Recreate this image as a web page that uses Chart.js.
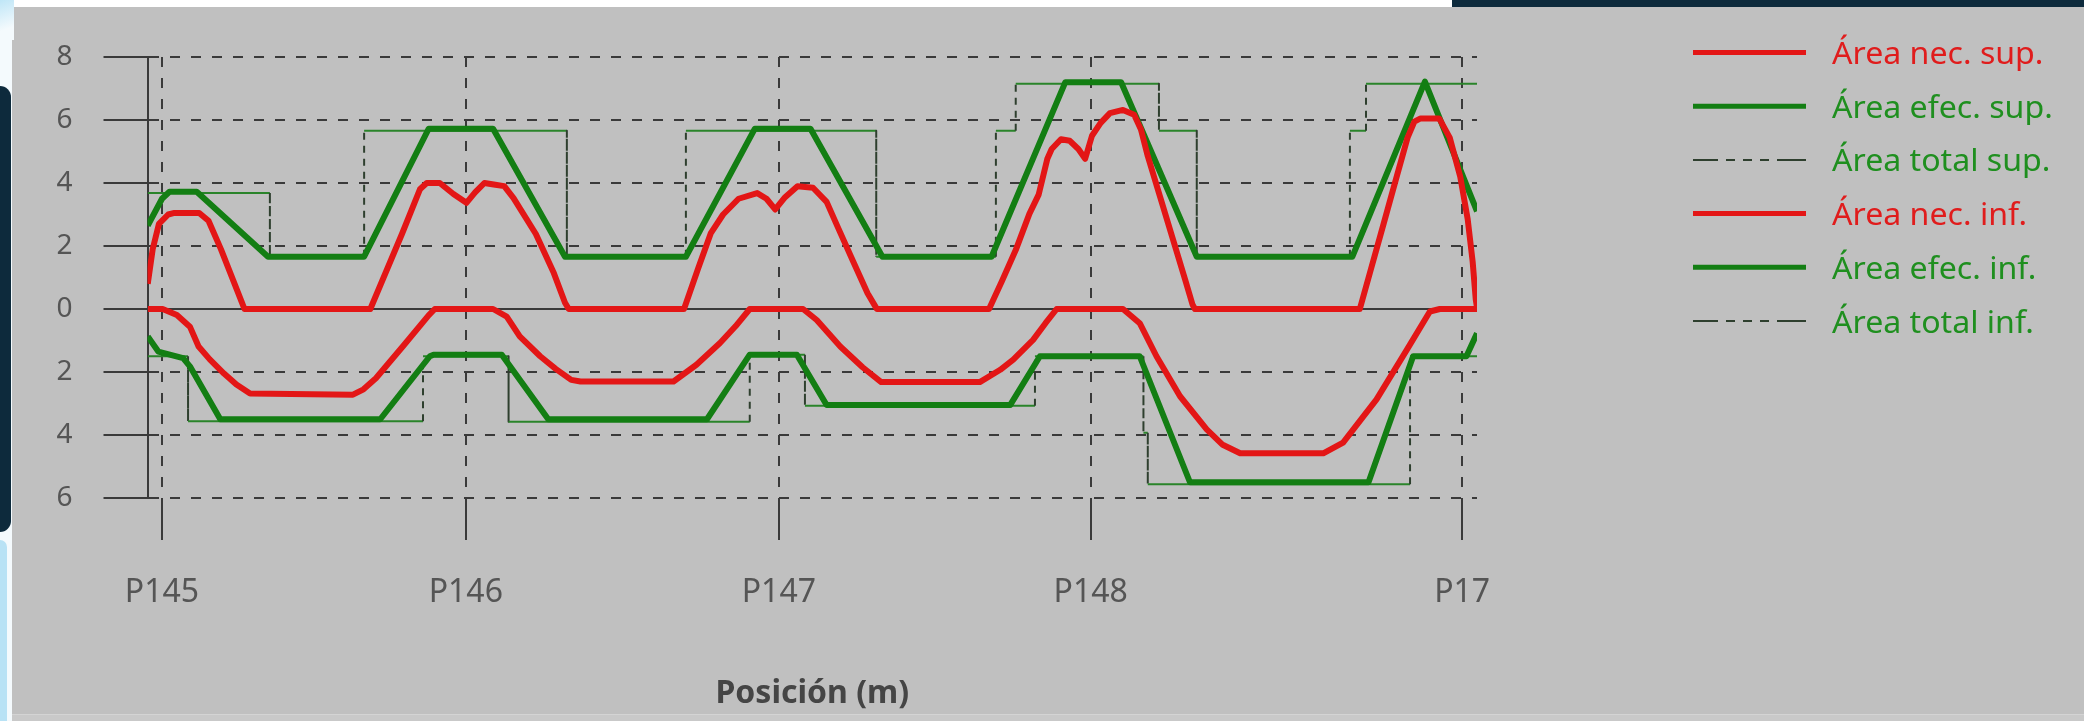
<!DOCTYPE html>
<html>
<head>
<meta charset="utf-8">
<script src="https://cdn.jsdelivr.net/npm/chart.js@4.4.1/dist/chart.umd.min.js"></script>
<style>
html,body{margin:0;padding:0;background:#c0c0c0;overflow:hidden;}
#wrap{position:relative;width:2084px;height:721px;background:#c0c0c0;}
#c{position:absolute;left:0;top:0;}
.d{position:absolute;}
</style>
</head>
<body>
<div id="wrap">
<canvas id="c" width="2084" height="721"></canvas>
<div class="d" style="left:0;top:0;width:1452px;height:7px;background:#ffffff"></div>
<div class="d" style="left:1452px;top:0;width:632px;height:7px;background:#0d2a3c"></div>
<div class="d" style="left:0;top:0;width:12px;height:721px;background:#f4fafd"></div>
<div class="d" style="left:0;top:0;width:14px;height:40px;background:linear-gradient(160deg,#bfe6f7 0%,#f4fafd 70%)"></div>
<div class="d" style="left:0;top:86px;width:11px;height:446px;background:#0d2a3c;border-radius:0 12px 12px 0"></div>
<div class="d" style="left:0;top:540px;width:7px;height:181px;background:#b8e2f5;border-radius:0 8px 0 0"></div>
<div class="d" style="left:12px;top:714px;width:2072px;height:7px;background:#c9c9c9;border-top:1px solid #d4d4d4"></div>
</div>
<script>
// ---- data (x = position in m, y = area) ----
const tickPositions = [0, 4.90, 9.95, 14.98, 20.97];
const tickLabels = ['P145', 'P146', 'P147', 'P148', 'P17'];
const seriesLabels = ['Área nec. sup.', 'Área efec. sup.', 'Área total sup.', 'Área nec. inf.', 'Área efec. inf.', 'Área total inf.'];

const areaNecSup = [
  [-0.23,0.8],[-0.15,1.9],[-0.05,2.7],[0.1,3.0],[0.2,3.05],[0.6,3.05],[0.75,2.8],[0.95,1.9],[1.15,0.9],[1.28,0.25],[1.33,0],
  [3.36,0],[3.87,2.38],[4.16,3.8],[4.27,4.0],[4.48,4.0],[4.7,3.65],[4.91,3.37],[5.05,3.7],[5.2,4.0],[5.35,3.95],[5.52,3.9],[5.67,3.52],[6.03,2.38],[6.32,1.14],[6.5,0.2],[6.56,0],
  [8.42,0],[8.65,1.3],[8.85,2.4],[9.05,3.0],[9.3,3.5],[9.6,3.68],[9.75,3.5],[9.89,3.16],[10.05,3.55],[10.25,3.9],[10.5,3.85],[10.72,3.4],[10.9,2.6],[11.15,1.5],[11.38,0.5],[11.5,0.1],[11.53,0],
  [13.34,0],[13.55,0.9],[13.77,1.87],[13.99,3.02],[14.14,3.63],[14.28,4.77],[14.35,5.08],[14.5,5.39],[14.64,5.34],[14.78,5.08],[14.89,4.77],[15.0,5.5],[15.14,5.91],[15.29,6.22],[15.5,6.32],[15.68,6.17],[15.79,5.7],[15.9,4.85],[16.1,3.55],[16.3,2.25],[16.5,0.95],[16.62,0.15],[16.66,0],
  [19.32,0],[19.5,1.27],[19.7,2.68],[19.9,4.1],[20.09,5.44],[20.2,5.95],[20.3,6.05],[20.6,6.05],[20.77,5.44],[20.94,4.2],[21.06,2.85],[21.14,1.5],[21.19,0.3],[21.21,0.05]
];
const areaEfecSup = [
  [-0.23,2.65],[0.0,3.5],[0.12,3.72],[0.56,3.72],[1.71,1.66],[3.26,1.66],[4.3,5.72],[5.34,5.72],[6.5,1.66],[8.45,1.66],[9.56,5.72],[10.46,5.72],[11.62,1.66],[13.38,1.66],[14.57,7.2],[15.47,7.2],[16.69,1.66],[19.2,1.66],[20.37,7.22],[21.21,3.1]
];
const areaTotalSup = [
  [-0.23,3.68],[1.74,3.68],[1.74,1.66],[3.26,1.66],[3.26,5.66],[6.53,5.66],[6.53,1.66],[8.45,1.66],[8.45,5.66],[11.52,5.66],[11.52,1.66],[13.45,1.66],[13.45,5.66],[13.77,5.66],[13.77,7.15],[16.08,7.15],[16.08,5.66],[16.69,5.66],[16.69,1.66],[19.16,1.66],[19.16,5.66],[19.42,5.66],[19.42,7.15],[21.21,7.15]
];
const areaNecInf = [
  [-0.23,0],[0.01,0],[0.24,-0.19],[0.45,-0.56],[0.59,-1.19],[0.77,-1.6],[1.0,-2.05],[1.2,-2.4],[1.42,-2.68],[3.08,-2.72],[3.25,-2.55],[3.45,-2.2],[3.9,-1.15],[4.3,-0.2],[4.4,0],
  [5.34,0],[5.56,-0.24],[5.77,-0.87],[6.1,-1.5],[6.35,-1.9],[6.6,-2.25],[6.75,-2.3],[8.25,-2.3],[8.62,-1.77],[9.0,-1.08],[9.25,-0.55],[9.48,0],
  [10.34,0],[10.56,-0.35],[10.94,-1.19],[11.3,-1.85],[11.6,-2.32],[13.19,-2.32],[13.52,-1.93],[13.73,-1.61],[14.05,-0.98],[14.25,-0.45],[14.43,0],
  [15.5,0],[15.77,-0.45],[16.04,-1.5],[16.42,-2.77],[16.85,-3.82],[17.1,-4.3],[17.39,-4.58],[18.73,-4.58],[19.05,-4.24],[19.59,-2.87],[20.08,-1.29],[20.45,-0.08],[20.61,0],[21.21,0]
];
const areaEfecInf = [
  [-0.23,-0.87],[-0.06,-1.35],[0.34,-1.56],[0.45,-1.82],[0.94,-3.5],[3.52,-3.5],[4.32,-1.5],[4.38,-1.45],[5.48,-1.45],[6.23,-3.5],[8.79,-3.5],[9.48,-1.45],[10.24,-1.45],[10.72,-3.05],[13.68,-3.05],[14.16,-1.5],[15.77,-1.5],[16.58,-5.5],[19.46,-5.5],[20.18,-1.5],[21.04,-1.5],[21.21,-0.77]
];
const areaTotalInf = [
  [-0.23,-1.5],[0.42,-1.5],[0.42,-3.56],[4.21,-3.56],[4.21,-1.5],[5.59,-1.5],[5.59,-3.58],[9.48,-3.58],[9.48,-1.45],[10.37,-1.45],[10.37,-3.07],[14.08,-3.07],[14.08,-1.5],[15.83,-1.5],[15.83,-3.93],[15.9,-3.93],[15.9,-5.56],[20.13,-5.56],[20.13,-1.5],[21.21,-1.5]
];

// ---- styles ----
const RED = '#e31616';
const GREEN = '#137e13';
const TOTAL = '#2a842a';
const TOTAL_V = '#2e3f2e';
const GRID = '#3a3a3a';
const FONT = 'Noto Sans';
const legendTextColors = ['#e01c1c', '#1f8f1f', '#1f8f1f', '#e01c1c', '#1f8f1f', '#1f8f1f'];

const verticalSeg = {
  borderDash: c => (c.p0.parsed.x === c.p1.parsed.x ? [7, 6] : undefined),
  borderColor: c => (c.p0.parsed.x === c.p1.parsed.x ? TOTAL_V : undefined)
};

const zeroLine = {
  id: 'zeroLine',
  beforeDatasetsDraw(chart) {
    const {ctx, chartArea: a, scales: {y}} = chart;
    const py = y.getPixelForValue(0);
    ctx.save();
    ctx.strokeStyle = GRID;
    ctx.lineWidth = 2;
    ctx.beginPath();
    ctx.moveTo(a.left, py);
    ctx.lineTo(a.right, py);
    ctx.stroke();
    ctx.restore();
  }
};

const sideLegend = {
  id: 'sideLegend',
  afterDraw(chart) {
    const ctx = chart.ctx;
    ctx.save();
    chart.data.datasets.forEach((ds, i) => {
      const y = 52.5 + i * 53.7;
      ctx.strokeStyle = ds.legendLineColor || ds.borderColor;
      ctx.lineWidth = ds.legendWidth || ds.borderWidth;
      ctx.setLineDash(ds.legendDash || []);
      ctx.beginPath();
      ctx.moveTo(1693, y);
      ctx.lineTo(1806, y);
      ctx.stroke();
      ctx.setLineDash([]);
      ctx.save();
      ctx.translate(1832, y + 3);
      ctx.scale(1.07, 1);
      ctx.fillStyle = legendTextColors[i];
      ctx.font = '30px "' + FONT + '"';
      ctx.textBaseline = 'middle';
      ctx.textAlign = 'left';
      ctx.fillText(ds.label, 0, 0);
      ctx.restore();
    });
    ctx.restore();
  }
};

new Chart(document.getElementById('c'), {
  type: 'line',
  data: {
    datasets: [
      {label: seriesLabels[0], data: areaNecSup, borderColor: RED, borderWidth: 6, legendWidth: 5, order: 0},
      {label: seriesLabels[1], data: areaEfecSup, borderColor: GREEN, borderWidth: 6, legendWidth: 5, order: 1},
      {label: seriesLabels[2], data: areaTotalSup, borderColor: TOTAL, borderWidth: 2, order: 2, segment: verticalSeg, legendLineColor: TOTAL_V, legendDash: [25, 8, 9, 8, 9, 8, 9, 8, 40]},
      {label: seriesLabels[3], data: areaNecInf, borderColor: RED, borderWidth: 6, legendWidth: 5, order: 0},
      {label: seriesLabels[4], data: areaEfecInf, borderColor: GREEN, borderWidth: 6, legendWidth: 5, order: 1},
      {label: seriesLabels[5], data: areaTotalInf, borderColor: TOTAL, borderWidth: 2, order: 2, segment: verticalSeg, legendLineColor: TOTAL_V, legendDash: [25, 8, 9, 8, 9, 8, 9, 8, 40]}
    ]
  },
  options: {
    responsive: false,
    animation: false,
    events: [],
    elements: {
      point: {radius: 0},
      line: {tension: 0, fill: false, borderJoinStyle: 'round', borderCapStyle: 'butt'}
    },
    layout: {padding: {left: 0, right: 607, top: 57, bottom: 0}},
    plugins: {legend: {display: false}, tooltip: {enabled: false}},
    scales: {
      x: {
        type: 'linear',
        min: -0.234,
        max: 21.21,
        afterBuildTicks: s => { s.ticks = tickPositions.map(v => ({value: v})); },
        afterFit: s => { s.height = 223; },
        ticks: {
          autoSkip: false, maxRotation: 0, padding: 34, color: '#555555',
          font: {family: FONT, size: 32},
          callback: (v, i) => tickLabels[i]
        },
        grid: {color: GRID, lineWidth: 2, tickLength: 42, tickColor: GRID, tickWidth: 2, tickBorderDash: []},
        border: {display: false, dash: [10, 11]},
        title: {
          display: true, text: 'Posición (m)', color: '#454545',
          font: {family: FONT, size: 32, weight: 'bold'},
          padding: {top: 0, bottom: 8}
        }
      },
      y: {
        min: -6,
        max: 8,
        afterFit: s => { s.width = 147.5; },
        ticks: {
          stepSize: 2, padding: 31, color: '#555555',
          font: {family: FONT, size: 28},
          callback: v => String(Math.abs(v))
        },
        grid: {
          color: c => (c.tick && c.tick.value === 0 ? 'rgba(0,0,0,0)' : GRID),
          lineWidth: 2, tickLength: 44, tickColor: GRID, tickWidth: 2, tickBorderDash: []
        },
        border: {display: true, color: GRID, width: 2, dash: [10, 11]}
      }
    }
  },
  plugins: [zeroLine, sideLegend]
});
</script>
</body>
</html>
